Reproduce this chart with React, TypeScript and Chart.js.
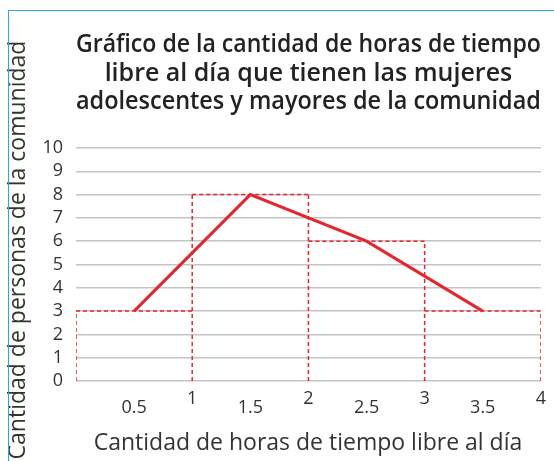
import React, { useEffect, useRef } from "react";
import { Chart, registerables } from "chart.js";

Chart.register(...registerables);

const titleLines = [
  "Gráfico de la cantidad de horas de tiempo",
  "libre al día que tienen las mujeres",
  "adolescentes y mayores de la comunidad",
];
const xAxisTitle = "Cantidad de horas de tiempo libre al día";
const yAxisTitle = "Cantidad de personas de la comunidad";

const binEdges = [0, 1, 2, 3, 4];
const frequencies = [3, 8, 6, 3];
const midpoints = [0.5, 1.5, 2.5, 3.5];
const xTickValues = [0.5, 1, 1.5, 2, 2.5, 3, 3.5, 4];
const yTickValues = [0, 1, 2, 3, 4, 5, 6, 7, 8, 9, 10];

const RED = "#e5262d";
const FONT = "'Open Sans', 'Noto Sans', sans-serif";

function histogramOutline() {
  const pts: { x: number; y: number | null }[] = [];
  binEdges.forEach((e, i) => {
    const left = i > 0 ? frequencies[i - 1] : 0;
    const right = i < frequencies.length ? frequencies[i] : 0;
    pts.push({ x: e, y: 0 }, { x: e, y: Math.max(left, right) }, { x: e, y: null });
  });
  frequencies.forEach((f, i) => {
    pts.push({ x: binEdges[i], y: f }, { x: binEdges[i + 1], y: f }, { x: binEdges[i + 1], y: null });
  });
  return pts;
}

const axisTitlesPlugin = {
  id: "axisTitles",
  afterDraw(chart: any) {
    const ctx = chart.ctx;
    ctx.save();
    ctx.fillStyle = "#333333";
    ctx.font = `23px ${FONT}`;
    ctx.textAlign = "center";
    ctx.textBaseline = "middle";
    ctx.fillText(xAxisTitle, 308, 443);
    ctx.translate(18, 250);
    ctx.rotate(-Math.PI / 2);
    ctx.fillText(yAxisTitle, 0, 0);
    ctx.restore();
  },
};

export default function App() {
  const ref = useRef<HTMLCanvasElement | null>(null);

  useEffect(() => {
    if (!ref.current) return;
    const chart = new Chart(ref.current, {
      type: "line",
      data: {
        datasets: [
          {
            label: "Polígono de frecuencias",
            data: midpoints.map((m, i) => ({ x: m, y: frequencies[i] })),
            borderColor: RED,
            borderWidth: 3,
            pointRadius: 0,
            tension: 0,
            fill: false,
          },
          {
            label: "Histograma",
            data: histogramOutline() as any,
            borderColor: RED,
            borderWidth: 1.5,
            borderDash: [4, 3],
            pointRadius: 0,
            tension: 0,
            spanGaps: false,
            fill: false,
          },
        ],
      },
      options: {
        animation: false,
        responsive: false,
        maintainAspectRatio: false,
        layout: { padding: { left: 0, right: 10, top: 0, bottom: 0 } },
        plugins: {
          legend: { display: false },
          tooltip: { enabled: false },
          title: {
            display: true,
            text: titleLines,
            fullSize: false,
            color: "#222222",
            font: { family: FONT, size: 25, weight: "600", lineHeight: "28.5px" },
            padding: { top: 31, bottom: 31.5 },
          },
        },
        scales: {
          x: {
            type: "linear",
            min: 0,
            max: 4,
            afterBuildTicks: (scale: any) => {
              scale.ticks = xTickValues.map((v) => ({ value: v }));
            },
            afterFit: (scale: any) => {
              scale.height = 80;
            },
            grid: { display: false, drawTicks: false },
            border: { display: false },
            ticks: {
              autoSkip: false,
              maxRotation: 0,
              padding: 8,
              color: "#333333",
              font: (ctx: any) => {
                const v = ctx.tick ? ctx.tick.value : 1;
                const half = Math.abs(v - Math.round(v)) > 0.01;
                return { family: FONT, size: 18, lineHeight: half ? "12.4px" : "20px" };
              },
              callback: (value: any) => {
                const v = Number(value);
                const half = Math.abs(v - Math.round(v)) > 0.01;
                return half ? ["", String(v)] : String(v);
              },
            },
          },
          y: {
            type: "linear",
            min: 0,
            max: 10,
            afterBuildTicks: (scale: any) => {
              scale.ticks = yTickValues.map((v) => ({ value: v }));
            },
            afterFit: (scale: any) => {
              scale.width = 76;
            },
            grid: { color: "#c4c4c4", lineWidth: 1.5, drawTicks: false },
            border: { display: false },
            ticks: {
              autoSkip: false,
              padding: 13,
              color: "#333333",
              font: { family: FONT, size: 18 },
            },
          },
        },
      },
      plugins: [axisTitlesPlugin],
    });
    return () => chart.destroy();
  }, []);

  return (
    <div style={{ position: "absolute", left: 0, top: 0, width: 554, height: 461, background: "#ffffff" }}>
      <canvas ref={ref} width={554} height={461} style={{ display: "block", width: 554, height: 461 }} />
      <div
        style={{
          position: "absolute",
          left: 8,
          top: 10,
          width: 546,
          height: 451,
          borderTop: "1.5px solid #29a9e1",
          borderLeft: "1.5px solid #29a9e1",
          boxSizing: "border-box",
          pointerEvents: "none",
        }}
      />
    </div>
  );
}
